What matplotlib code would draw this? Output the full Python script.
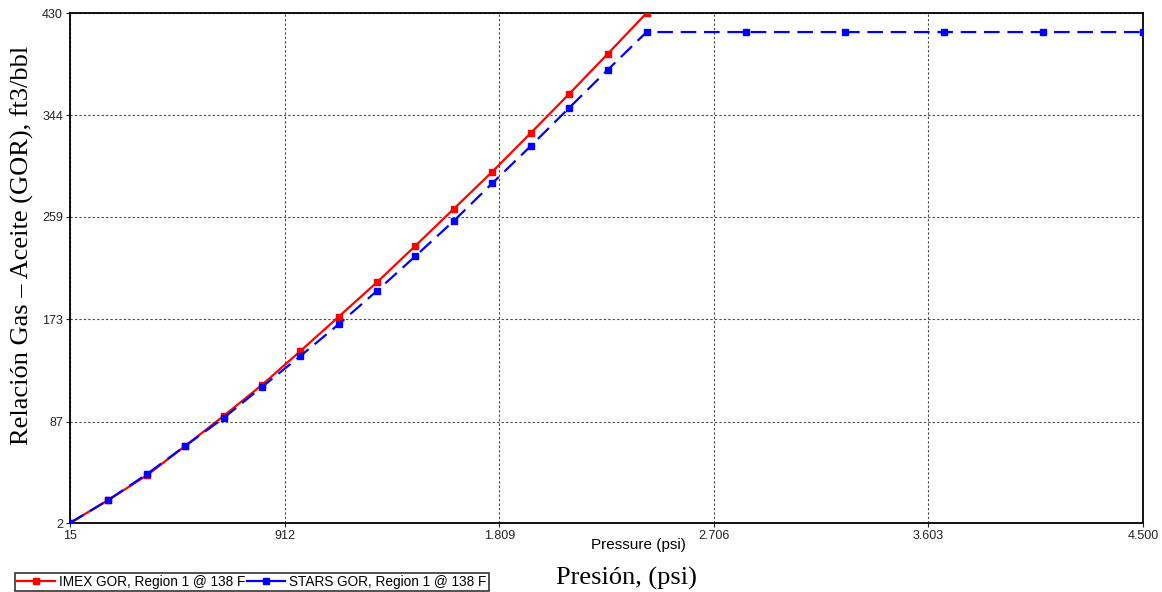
import matplotlib.pyplot as plt
from matplotlib.lines import Line2D

# GOR vs pressure, IMEX and STARS PVT tables
imex_p = [15, 175, 336, 496, 657, 817, 978, 1138, 1299, 1459, 1620, 1780, 1941, 2101, 2262, 2425]
imex_gor = [2, 21.3, 42.0, 66.6, 91.8, 117.8, 146.3, 175.1, 204.2, 234.7, 265.8, 296.8, 329.3, 362.0, 395.6, 430.0]

stars_p = [15, 175, 336, 496, 657, 817, 978, 1138, 1299, 1459, 1620, 1780, 1941, 2101, 2262, 2425,
           2841, 3255, 3669, 4083, 4500]
stars_gor = [2, 21.3, 43.0, 66.6, 90.1, 116.1, 142.1, 168.8, 197.0, 226.0, 255.7, 287.1, 318.4, 350.3, 382.2, 414.0,
             414.0, 414.0, 414.0, 414.0, 414.0]

xticks = [15, 912, 1809, 2706, 3603, 4500]
xtick_labels = ['15', '912', '1.809', '2.706', '3.603', '4.500']
yticks = [2, 87, 173, 259, 344, 430]

plt.rcParams['font.family'] = ['Liberation Sans', 'DejaVu Sans']

fig = plt.figure(figsize=(11.62, 5.92), dpi=100)
ax = fig.add_axes([70 / 1162, 1 - 523 / 592, (1143 - 70) / 1162, (523 - 13) / 592])

ax.plot(imex_p, imex_gor, color='#ff0000', lw=1.6, marker='s', ms=5, zorder=3)
ax.plot(stars_p, stars_gor, color='#0000ff', lw=1.6, marker='s', ms=5, dashes=(7, 3.5), zorder=4)

ax.set_xlim(15, 4500)
ax.set_ylim(2, 430)
ax.set_xticks(xticks)
ax.set_xticklabels(xtick_labels)
ax.set_yticks(yticks)
ax.tick_params(labelsize=9, length=3, width=0.8, pad=2, colors='#222222')
ax.grid(True, color='#444444', linestyle=(0, (2, 2)), linewidth=0.8)
for s in ax.spines.values():
    s.set_linewidth(1.3)

fig.text(638 / 1162, 1 - 545 / 592, 'Pressure (psi)', ha='center', va='center', fontsize=11)
fig.text(626 / 1162, 1 - 578 / 592, 'Presión, (psi)', ha='center', va='center',
         fontsize=19, family='Liberation Serif')
fig.text(22 / 1162, 1 - 245 / 592, 'Relación Gas – Aceite (GOR), ft3/bbl', ha='center', va='center',
         rotation=90, fontsize=19, family='Liberation Serif')

handles = [Line2D([], [], color='#ff0000', lw=1.6, marker='s', ms=5),
           Line2D([], [], color='#0000ff', lw=1.6, marker='s', ms=5)]
leg = fig.legend(handles, ['IMEX GOR, Region 1 @ 138 F', 'STARS GOR, Region 1 @ 138 F'],
                 loc='lower left', bbox_to_anchor=(15 / 1162, 1 / 592), ncol=2, fontsize=9.8,
                 frameon=True, fancybox=False, edgecolor='black', handlelength=2.8,
                 handletextpad=0.3, columnspacing=0.1, borderpad=0.15, borderaxespad=0)
leg.get_frame().set_linewidth(1.2)

fig.savefig('out.png', dpi=100)
